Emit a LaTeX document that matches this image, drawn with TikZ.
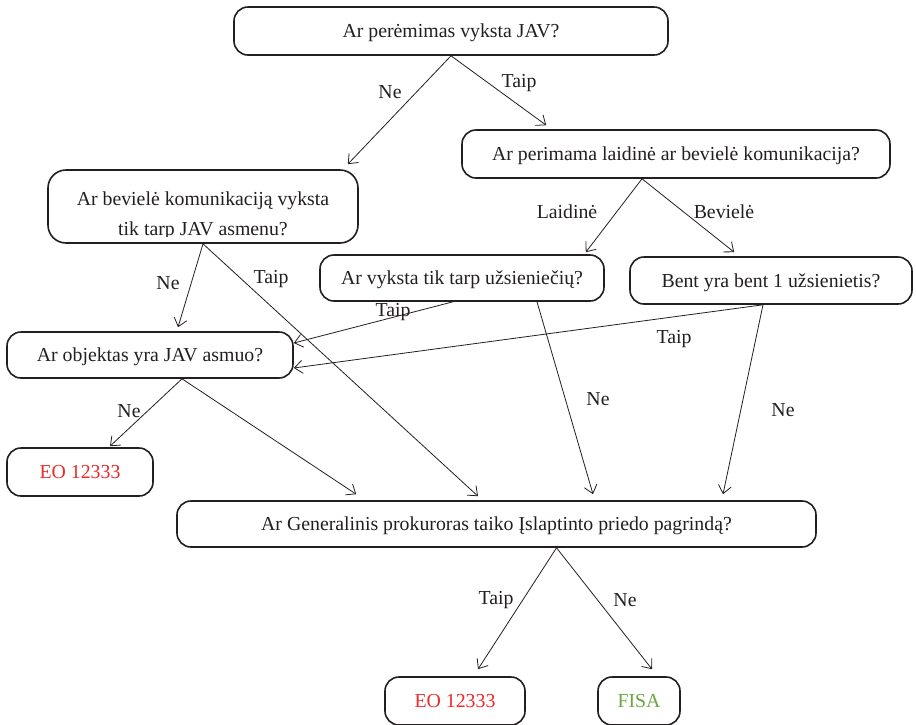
\documentclass[tikz,border=0pt]{standalone}
\usepackage{fontspec}
\setmainfont{Liberation Serif}
\usetikzlibrary{arrows.meta,calc}
\definecolor{ink}{HTML}{231F20}
\definecolor{eored}{HTML}{EE2A2A}
\definecolor{fisagreen}{HTML}{6DA544}
\begin{document}
\begin{tikzpicture}[x=1pt,y=-1pt,
  box/.style={draw=ink, line width=1.6pt, rounded corners=14pt, fill=white, text=ink,
    font=\fontsize{19.8}{24}\selectfont, text height=16pt, text depth=3pt, inner sep=0pt},
  lbl/.style={text=ink, font=\fontsize{19.8}{24}\selectfont, inner sep=0pt},
  arr/.style={draw=ink, line width=0.8pt, -{Straight Barb[length=8pt,width=13pt]}}]
\useasboundingbox (0,0) rectangle (916,724);

% boxes
\node[box, minimum width=434pt, minimum height=48pt] (q1) at (451,31) {Ar perėmimas vyksta JAV?};
\node[box, minimum width=428pt, minimum height=48pt] (q2) at (676,154) {Ar perimama laidinė ar bevielė komunikacija?};
\node[box, minimum width=310pt, minimum height=73pt, rounded corners=18pt] (q3) at (203,206.5) {};
\begin{scope}
  \clip (50,172) rectangle (356,236);
  \node[lbl, anchor=base] (q3a) at (203,205) {Ar bevielė komunikaciją vyksta};
  \node[lbl, anchor=base] (q3b) at (203,235) {tik tarp JAV asmenu?};
\end{scope}
\node[box, minimum width=284pt, minimum height=46pt] (q4) at (462,278) {Ar vyksta tik tarp užsieniečių?};
\node[box, minimum width=282pt, minimum height=47pt] (q5) at (771,280.5) {Bent yra bent 1 užsienietis?};
\node[box, minimum width=286pt, minimum height=46pt] (q6) at (150,355) {Ar objektas yra JAV asmuo?};
\node[box, minimum width=146pt, minimum height=48pt, text=eored] (q7) at (80,472) {EO 12333};
\node[box, minimum width=639pt, minimum height=46pt] (q8) at (496.5,524) {Ar Generalinis prokuroras taiko Įslaptinto priedo pagrindą?};
\node[box, minimum width=140pt, minimum height=48pt, text=eored] (q9) at (455,701) {EO 12333};
\node[box, minimum width=82pt, minimum height=48pt, text=fisagreen] (q10) at (639,701) {FISA};

% connector ends
\coordinate (o2) at ($(q2.south)+(-34,0)$);
\coordinate (o4a) at ($(q4.south)+(-9,0)$);
\coordinate (o4b) at ($(q4.south)+(75,0)$);
\coordinate (o5) at ($(q5.south)+(-8,0)$);
\coordinate (o6) at ($(q6.south)+(32,0)$);
\coordinate (o8) at ($(q8.south)+(60,0)$);

% connectors
\draw[arr] (q1.south) -- ($(q3.north east)+(-11,-5)$);
\draw[arr] (q1.south) -- ($(q2.north west)+(85,-4)$);
\draw[arr] (o2) -- ($(q4.north east)+(-19,-2)$);
\draw[arr] (o2) -- ($(q5.north west)+(105,-4)$);
\draw[arr] (q3.south) -- ($(q6.north)+(28,-4)$);
\draw[arr] (q3.south) -- ($(q8.north)+(-18.5,-4)$);
\draw[arr] (o4a) -- ($(q6.east)+(0,-12)$);
\draw[arr] (o4b) -- ($(q8.north)+(96.5,-6)$);
\draw[arr] (o5) -- ($(q6.east)+(0,13)$);
\draw[arr] (o5) -- ($(q8.north)+(226.5,-6)$);
\draw[arr] (o6) -- ($(q7.north)+(30,-1)$);
\draw[arr] (o6) -- ($(q8.north west)+(180,-6)$);
\draw[arr] (o8) -- ($(q9.north)+(23,-7)$);
\draw[arr] (o8) -- ($(q10.north)+(13,-7)$);

% labels
\node[lbl] (l1) at (390,92) {Ne};
\node[lbl] (l2) at (519,83) {Taip};
\node[lbl] (l3) at (567,212) {Laidinė};
\node[lbl] (l4) at (724,212) {Bevielė};
\node[lbl] (l5) at (168,283) {Ne};
\node[lbl] (l6) at (271,279) {Taip};
\node[lbl] (l7) at (393,312) {Taip};
\node[lbl] (l8) at (674,339) {Taip};
\node[lbl] (l9) at (598,399) {Ne};
\node[lbl] (l10) at (783,410) {Ne};
\node[lbl] (l11) at (129,411) {Ne};
\node[lbl] (l12) at (496,600) {Taip};
\node[lbl] (l13) at (625,600) {Ne};
\end{tikzpicture}
\end{document}
